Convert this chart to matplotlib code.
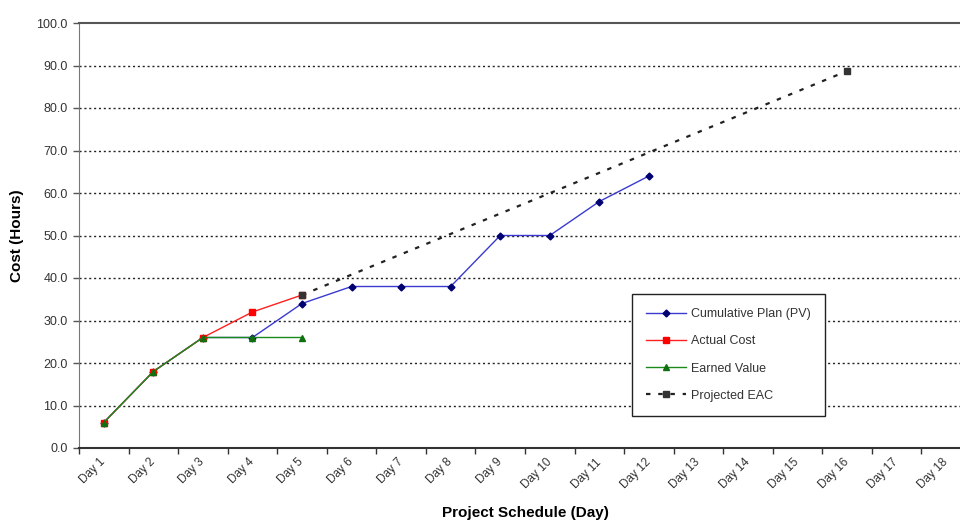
import matplotlib
matplotlib.use("Agg")
import matplotlib.pyplot as plt
from matplotlib.ticker import FixedLocator, FormatStrFormatter

plt.rcParams["font.family"] = ["Liberation Sans", "DejaVu Sans"]

day_labels = ["Day 1", "Day 2", "Day 3", "Day 4", "Day 5", "Day 6", "Day 7", "Day 8", "Day 9",
              "Day 10", "Day 11", "Day 12", "Day 13", "Day 14", "Day 15", "Day 16", "Day 17", "Day 18"]
day_pos = [1, 2, 3, 4, 5, 6, 7, 8, 9, 10, 11, 12, 13, 14, 15, 16, 17, 18]

pv_days = [1, 2, 3, 4, 5, 6, 7, 8, 9, 10, 11, 12]
pv_values = [6, 18, 26, 26, 34, 38, 38, 38, 50, 50, 58, 64]

ac_days = [1, 2, 3, 4, 5]
ac_values = [6, 18, 26, 32, 36]

ev_days = [1, 2, 3, 4, 5]
ev_values = [6, 18, 26, 26, 26]

eac_days = [5, 16]
eac_values = [36, 88.7]

y_ticks = [0, 10, 20, 30, 40, 50, 60, 70, 80, 90, 100]

fig = plt.figure(figsize=(9.6, 5.24), dpi=100)
ax = fig.add_axes([79 / 960, 76 / 524, 892 / 960, 425 / 524])

ax.plot(pv_days, pv_values, color="#3a3ad0", lw=1, marker="D", ms=3.5,
        mfc="#000070", mec="#000070", label="Cumulative Plan (PV)", zorder=3)
ax.plot(ac_days, ac_values, color="#ff2020", lw=1, marker="s", ms=5,
        mfc="#ff0000", mec="#ff0000", label="Actual Cost", zorder=4)
ax.plot(ev_days, ev_values, color="#1a8a1a", lw=1, marker="^", ms=5,
        mfc="#107010", mec="#107010", label="Earned Value", zorder=5)
ax.plot(eac_days, eac_values, color="#222222", lw=1.6, ls=(0, (2, 3.5)), marker="s", ms=5,
        mfc="#333333", mec="#333333", label="Projected EAC", zorder=6)

ax.set_xlim(0.5, 18.5)
ax.set_ylim(0, 100)

# category boundaries get the tick marks, labels sit in the middle of each day
ax.xaxis.set_major_locator(FixedLocator([p - 0.5 for p in day_pos]))
ax.xaxis.set_major_formatter(plt.NullFormatter())
ax.set_xticks(day_pos, day_labels, minor=True)
ax.tick_params(axis="x", which="major", length=4, width=1, color="#333333", direction="out")
ax.tick_params(axis="x", which="minor", length=0, pad=9, labelsize=8.5, labelcolor="#333333")
for lbl in ax.get_xticklabels(minor=True):
    lbl.set_rotation(45)
    lbl.set_ha("right")
    lbl.set_va("center")
    lbl.set_rotation_mode("anchor")

ax.set_yticks(y_ticks)
ax.yaxis.set_major_formatter(FormatStrFormatter("%.1f"))
ax.tick_params(axis="y", length=4, width=1, color="#555555", labelsize=9, labelcolor="#333333", pad=4)

for v in y_ticks[1:-1]:
    ax.axhline(v, color="#222222", lw=1, ls=(0, (1.5, 2)), zorder=1)

ax.spines["top"].set_color("#555555")
ax.spines["top"].set_linewidth(1.5)
ax.spines["left"].set_color("#777777")
ax.spines["bottom"].set_color("#333333")
ax.spines["bottom"].set_linewidth(1.5)
ax.spines["right"].set_visible(False)

ax.set_ylabel("Cost (Hours)", fontsize=11, fontweight="bold")
ax.yaxis.set_label_coords(-0.0617, 0.5)
ax.set_xlabel("Project Schedule (Day)", fontsize=11, fontweight="bold")
ax.xaxis.set_label_coords(0.5, -0.136)

leg = ax.legend(loc="lower left", bbox_to_anchor=(0.62, 0.075), fontsize=9, frameon=True,
                fancybox=False, edgecolor="#222222", framealpha=1, labelspacing=1.22,
                handlelength=3.2, borderpad=1.15, handletextpad=0.35, borderaxespad=0)
leg.get_frame().set_linewidth(1)
for txt in leg.get_texts():
    txt.set_color("#333333")

fig.savefig("out.png", dpi=100, facecolor="white")
